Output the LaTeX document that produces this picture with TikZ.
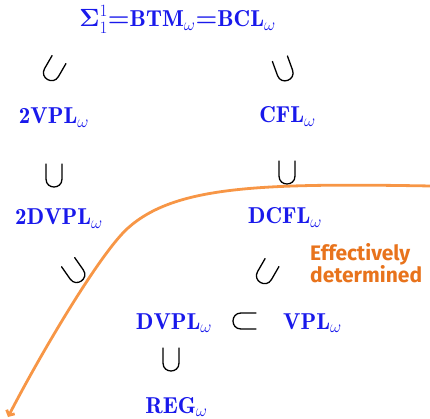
\documentclass[tikz,border=0pt]{standalone}
\usepackage{amsmath,amssymb}
\usepackage{fontspec}
\newfontfamily\edfont{Fira Sans}
\usetikzlibrary{arrows.meta}
\definecolor{langblue}{RGB}{25,25,235}
\definecolor{curveorange}{RGB}{247,150,70}
\definecolor{textorange}{RGB}{232,115,28}
\tikzset{
  lang/.style={text=langblue, font=\fontsize{23}{27}\selectfont, inner sep=0pt, anchor=base},
  edtext/.style={text=textorange, font=\edfont\bfseries\fontsize{21}{24}\selectfont, inner sep=0pt, anchor=base west},
  subsetsym/.pic={\draw[line width=1.3pt, line cap=round] (-8,-12) -- (-8,3) .. controls (-8,13.67) and (8,13.67) .. (8,3) -- (8,-12);},
}
\begin{document}
\begin{tikzpicture}[x=1pt,y=-1pt]
\useasboundingbox (0,0) rectangle (430,419);
% languages
\node[lang] (top) at (177.5,27) {$\boldsymbol{\Sigma}^1_1{\boldsymbol{=}}\mathbf{BTM}_\omega{\boldsymbol{=}}\mathbf{BCL}_\omega$};
\node[lang] (tvpl) at (54,124) {$\mathbf{2VPL}_\omega$};
\node[lang] (cfl) at (287.5,123) {$\mathbf{CFL}_\omega$};
\node[lang] (tdvpl) at (59,225) {$\mathbf{2DVPL}_\omega$};
\node[lang] (dcfl) at (285,224) {$\mathbf{DCFL}_\omega$};
\node[lang] (dvpl) at (174,329) {$\mathbf{DVPL}_\omega$};
\node[lang] (vpl) at (312.5,329) {$\mathbf{VPL}_\omega$};
\node[lang] (reg) at (176.5,413) {$\mathbf{REG}_\omega$};
% inclusion symbols
\pic[rotate=-30] at (53,70) {subsetsym};
\pic[rotate=20] at (284,70) {subsetsym};
\pic at (54,176) {subsetsym};
\pic at (287,173) {subsetsym};
\pic[rotate=35] at (75,272) {subsetsym};
\pic[rotate=-30] at (266,273) {subsetsym};
\pic[rotate=-90] at (244,321) {subsetsym};
\pic at (171,360) {subsetsym};
% boundary curve
\coordinate (cstart) at (431,186);
\coordinate (cmid) at (128,228);
\coordinate (cend) at (8,417);
\draw[curveorange, line width=2.8pt, -{Straight Barb[length=4pt,width=9pt]}]
  (cstart) .. controls (260,183) and (175,186) .. (cmid)
  .. controls (100,253) and (40,355) .. (cend);
% label
\node[edtext] (eff) at (310,260) {Effectively};
\node[edtext] (det) at (310,282) {determined};
\end{tikzpicture}
\end{document}
